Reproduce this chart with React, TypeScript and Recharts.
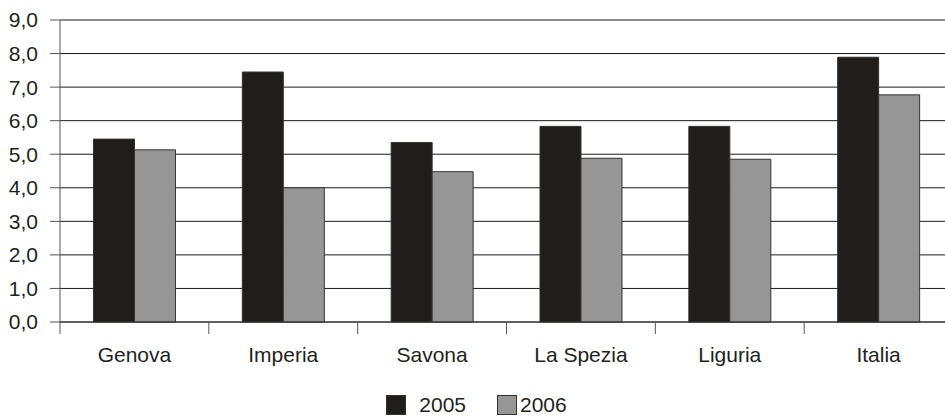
import React from 'react';
import { BarChart, Bar, XAxis, YAxis, CartesianGrid, Legend } from 'recharts';

const categories = ['Genova', 'Imperia', 'Savona', 'La Spezia', 'Liguria', 'Italia'];
const values2005 = [5.45, 7.45, 5.35, 5.83, 5.83, 7.89];
const values2006 = [5.13, 4.0, 4.48, 4.88, 4.85, 6.77];
const yTicks = [0, 1, 2, 3, 4, 5, 6, 7, 8, 9];
const seriesNames = ['2005', '2006'];

const data = categories.map((c, i) => ({ name: c, a: values2005[i], b: values2006[i] }));

const CHART_W = 953;
const CHART_H = 416;
const Y_W = 60;
const BAND = (CHART_W - Y_W) / categories.length;
const FONT = '"Liberation Sans", Arial, sans-serif';
const TEXT = '#231f20';
const BLACK = '#211d1b';
const GRAY = '#969696';

const fmt = (v: number) => v.toFixed(1).replace('.', ',');

const XTick = (props: any) => {
  const { x, y, payload } = props;
  const half = payload && typeof payload.offset === 'number' && payload.offset > 0 ? payload.offset : BAND / 2;
  return (
    <g>
      <line x1={x - half} x2={x - half} y1={y - 12} y2={y} stroke="#555" strokeWidth={1} />
      <text x={x} y={y} dy={28} textAnchor="middle" fontSize={21} fontFamily={FONT} fill={TEXT}>
        {payload.value}
      </text>
    </g>
  );
};

const LegendContent = () => (
  <div style={{ height: 54, display: 'flex', justifyContent: 'center', alignItems: 'flex-start', fontFamily: FONT, fontSize: 21, color: TEXT }}>
    <div style={{ display: 'flex', alignItems: 'center', marginTop: 33 }}>
      <span style={{ width: 18, height: 18, background: BLACK, border: '1px solid #333', display: 'inline-block' }} />
      <span style={{ marginLeft: 13, lineHeight: '20px' }}>{seriesNames[0]}</span>
      <span style={{ width: 18, height: 18, background: GRAY, border: '1px solid #333', display: 'inline-block', marginLeft: 31 }} />
      <span style={{ marginLeft: 3, lineHeight: '20px' }}>{seriesNames[1]}</span>
    </div>
  </div>
);

export default function App() {
  return (
    <div style={{ position: 'absolute', left: 0, top: 0, width: 945, height: 416, overflow: 'hidden', background: '#fff' }}>
      <BarChart
        width={CHART_W}
        height={CHART_H}
        data={data}
        margin={{ top: 20, right: 0, bottom: 0, left: 0 }}
        barCategoryGap="22.5%"
        barGap={0}
      >
        <CartesianGrid vertical={false} stroke="#1a1a1a" strokeWidth={1} />
        <XAxis
          dataKey="name"
          height={40}
          tickLine={false}
          tickSize={12}
          tickMargin={0}
          axisLine={{ stroke: '#333' }}
          tick={<XTick />}
          interval={0}
        />
        <YAxis
          width={Y_W}
          domain={[0, 9]}
          ticks={yTicks}
          tickFormatter={fmt}
          tickSize={10}
          tickMargin={12}
          axisLine={{ stroke: '#555' }}
          tickLine={{ stroke: '#555' }}
          tick={{ fontSize: 21, fontFamily: FONT, fill: TEXT }}
          interval={0}
        />
        <Legend verticalAlign="bottom" content={<LegendContent />} />
        <Bar dataKey="a" name={seriesNames[0]} fill={BLACK} stroke="#333" strokeWidth={1} isAnimationActive={false} />
        <Bar dataKey="b" name={seriesNames[1]} fill={GRAY} stroke="#333" strokeWidth={1} isAnimationActive={false} />
      </BarChart>
    </div>
  );
}
